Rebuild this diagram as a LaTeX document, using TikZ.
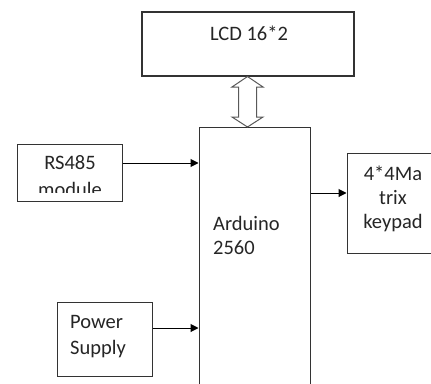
\documentclass[tikz,border=0pt]{standalone}
\usepackage{fontspec}
\setmainfont{Carlito}
\usetikzlibrary{arrows.meta}
\begin{document}
\begin{tikzpicture}[x=1pt,y=-1pt,
  box/.style={draw=black!80,line width=1pt,rectangle,inner sep=0pt,fill=white},
  lbl/.style={inner sep=0pt,text=black!85,font=\fontsize{20.5}{25}\selectfont},
  arr/.style={draw=black,line width=1pt,-{Triangle[length=8pt,width=8pt]}}]
\useasboundingbox (0,0) rectangle (431,383);
\clip (0,0) rectangle (431,383);
% boxes
\node[box,line width=1.4pt,minimum width=212pt,minimum height=64pt] (lcd) at (248,44) {};
\node[box,minimum width=111pt,minimum height=273pt] (ard) at (254.5,263.5) {};
\node[box,minimum width=105pt,minimum height=57pt] (rs) at (69.5,172.5) {};
\node[box,minimum width=93pt,minimum height=100pt] (kp) at (393.5,203) {};
\node[box,minimum width=95pt,minimum height=74pt] (pw) at (104.5,339) {};
% texts
\node[lbl] (tlcd) at (249,33) {LCD 16*2};
\begin{scope}
\clip (17,144) rectangle (122,192);
\node[lbl] (trs1) at (70,163) {RS485};
\node[lbl] (trs2) at (70,189) {module};
\end{scope}
\node[lbl,anchor=west] (tar1) at (213,223) {Arduino};
\node[lbl,anchor=west] (tar2) at (213,248) {2560};
\node[lbl] (tkp1) at (393,173) {4*4Ma};
\node[lbl] (tkp2) at (393,198) {trix};
\node[lbl] (tkp3) at (393,223) {keypad};
\node[lbl,anchor=west] (tpw1) at (70,322) {Power};
\node[lbl,anchor=west] (tpw2) at (70,349) {Supply};
% connectors
\coordinate (yrs) at (0,163);
\coordinate (ykp) at (0,193);
\coordinate (ypw) at (0,328);
\draw[arr] (rs.east |- yrs) -- (ard.west |- yrs);
\draw[arr] (ard.east |- ykp) -- (kp.west |- ykp);
\draw[arr] (pw.east |- ypw) -- (ard.west |- ypw);
% double block arrow
\coordinate (dt) at (lcd.south -| 248,0);
\draw[draw=black!65,line width=1pt,fill=white,line join=miter]
  (247.5,76.5) -- (263,87) -- (256.5,87) -- (256.5,117) -- (263,117) -- (247.5,127)
  -- (232,117) -- (238.5,117) -- (238.5,87) -- (232,87) -- cycle;
\end{tikzpicture}
\end{document}
